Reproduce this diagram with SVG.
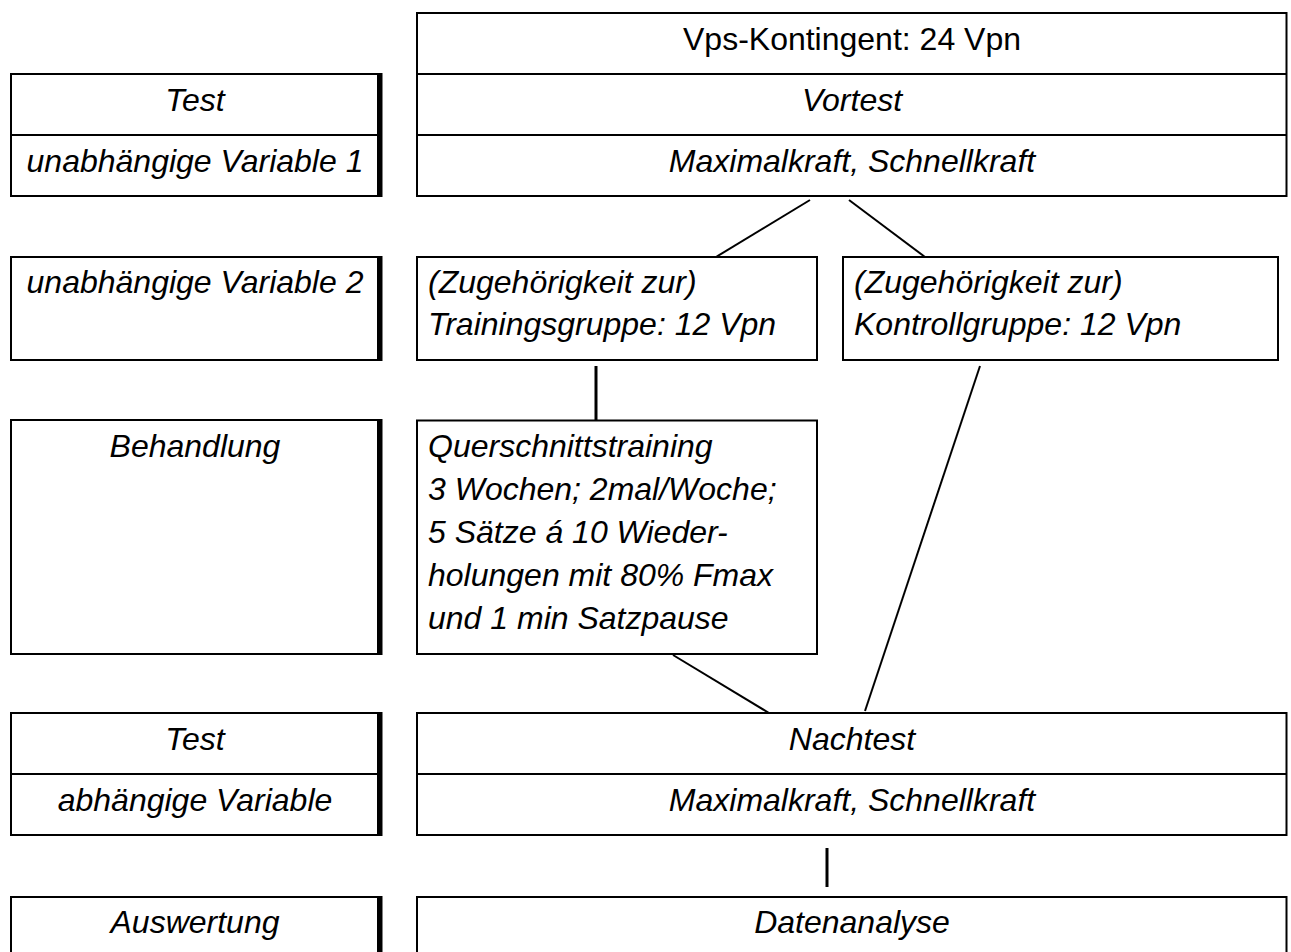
<svg xmlns="http://www.w3.org/2000/svg" width="1291" height="952" viewBox="0 0 1291 952">
<style>
.box{fill:#fff;stroke:#000;stroke-width:2}
.div{stroke:#000;stroke-width:2}
.shadow{stroke:#000;stroke-width:5}
.t{font-family:"Liberation Sans",Arial,sans-serif;font-size:32px;font-style:italic;fill:#000}
.c{text-anchor:middle}
.n{font-style:normal}
.con line{stroke:#000;stroke-width:2}
.con line.v{stroke-width:3}
</style>
<rect width="1291" height="952" fill="#fff"/>
<g id="connectors" class="con">
<line x1="810" y1="200" x2="716" y2="257"/>
<line x1="849" y1="200" x2="925" y2="257"/>
<line class="v" x1="596" y1="366" x2="596" y2="421"/>
<line x1="980" y1="366" x2="865" y2="711"/>
<line x1="673" y1="655" x2="769" y2="713"/>
<line class="v" x1="827" y1="848" x2="827" y2="887"/>
</g>
<g id="left-test1">
<rect class="box" x="11" y="74" width="367" height="122"/>
<line class="div" x1="11" y1="135" x2="378" y2="135"/>
<line class="shadow" x1="380" y1="73" x2="380" y2="197"/>
<text class="t c" x="195" y="111">Test</text>
<text class="t c" x="195" y="172">unabhängige Variable 1</text>
</g>
<g id="left-uv2">
<rect class="box" x="11" y="257" width="367" height="103"/>
<line class="shadow" x1="380" y1="256" x2="380" y2="361"/>
<text class="t c" x="195" y="293">unabhängige Variable 2</text>
</g>
<g id="left-behandlung">
<rect class="box" x="11" y="420" width="367" height="234"/>
<line class="shadow" x1="380" y1="419" x2="380" y2="655"/>
<text class="t c" x="195" y="457">Behandlung</text>
</g>
<g id="left-test2">
<rect class="box" x="11" y="713" width="367" height="122"/>
<line class="div" x1="11" y1="774" x2="378" y2="774"/>
<line class="shadow" x1="380" y1="712" x2="380" y2="836"/>
<text class="t c" x="195" y="750">Test</text>
<text class="t c" x="195" y="811">abhängige Variable</text>
</g>
<g id="left-auswertung">
<rect class="box" x="11" y="897" width="367" height="80"/>
<line class="shadow" x1="380" y1="896" x2="380" y2="960"/>
<text class="t c" x="195" y="933">Auswertung</text>
</g>
<g id="vortest">
<rect class="box" x="417" y="13" width="869.5" height="183"/>
<line class="div" x1="417" y1="74" x2="1286.5" y2="74"/>
<line class="div" x1="417" y1="135" x2="1286.5" y2="135"/>
<text class="t c n" x="852" y="50">Vps-Kontingent: 24 Vpn</text>
<text class="t c" x="852" y="111">Vortest</text>
<text class="t c" x="852" y="172">Maximalkraft, Schnellkraft</text>
</g>
<g id="trainingsgruppe">
<rect class="box" x="417" y="257" width="400" height="103"/>
<text class="t" x="428" y="293">(Zugehörigkeit zur)</text>
<text class="t" x="428" y="335">Trainingsgruppe: 12 Vpn</text>
</g>
<g id="kontrollgruppe">
<rect class="box" x="843" y="257" width="435" height="103"/>
<text class="t" x="854" y="293">(Zugehörigkeit zur)</text>
<text class="t" x="854" y="335">Kontrollgruppe: 12 Vpn</text>
</g>
<g id="querschnittstraining">
<rect class="box" x="417" y="420.5" width="400" height="233.5"/>
<text class="t" x="428" y="457">Querschnittstraining</text>
<text class="t" x="428" y="500">3 Wochen; 2mal/Woche;</text>
<text class="t" x="428" y="543">5 Sätze á 10 Wieder-</text>
<text class="t" x="428" y="586">holungen mit 80% Fmax</text>
<text class="t" x="428" y="629">und 1 min Satzpause</text>
</g>
<g id="nachtest">
<rect class="box" x="417" y="713" width="869.5" height="122"/>
<line class="div" x1="417" y1="774" x2="1286.5" y2="774"/>
<text class="t c" x="852" y="750">Nachtest</text>
<text class="t c" x="852" y="811">Maximalkraft, Schnellkraft</text>
</g>
<g id="datenanalyse">
<rect class="box" x="417" y="897" width="869.5" height="80"/>
<text class="t c" x="852" y="933">Datenanalyse</text>
</g>
</svg>
